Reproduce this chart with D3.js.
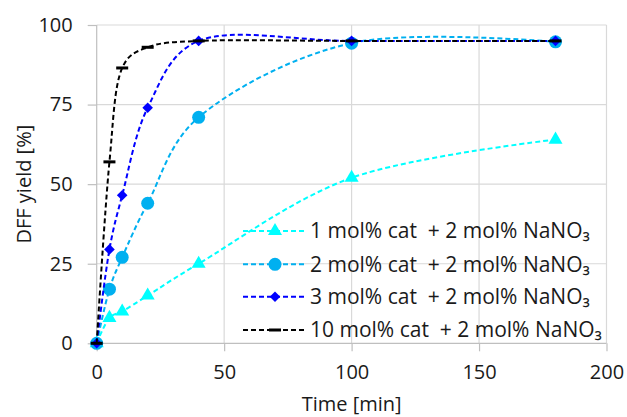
<!DOCTYPE html>
<html>
<head>
<meta charset="utf-8">
<script src="https://cdn.jsdelivr.net/npm/d3@7"></script>
<style>
  body { margin: 0; background: #fff; }
  text { font-family: "Open Sans", sans-serif; fill: #1a1a1a; white-space: pre; }
</style>
</head>
<body>
<svg id="chart"></svg>
<script>
const times = [0, 5, 10, 20, 40, 100, 180];
const cat1 = [0, 8, 10, 15, 25, 52, 64];
const cat2 = [0, 17, 27, 44, 71, 94.3, 94.7];
const cat3 = [0, 29.5, 46.5, 74, 95, 95, 95];
const cat10 = [0, 57, 86.5, 93, 95, 95, 95];
const seriesNames = [
    "1 mol% cat  + 2 mol% NaNO\u2083",
    "2 mol% cat  + 2 mol% NaNO\u2083",
    "3 mol% cat  + 2 mol% NaNO\u2083",
    "10 mol% cat  + 2 mol% NaNO\u2083"
];
const xTicks = [0, 50, 100, 150, 200];
const yTicks = [0, 25, 50, 75, 100];

const width = 627;
const height = 417;
const margin = { left: 96.7, right: 20.5, top: 25, bottom: 73.7 };

const svg = d3.select("#chart")
    .attr("width", width)
    .attr("height", height);

const xScale = d3.scaleLinear()
    .domain([0, 200])
    .range([margin.left, width - margin.right]);

const yScale = d3.scaleLinear()
    .domain([0, 100])
    .range([height - margin.bottom, margin.top]);

// gridlines
svg.append("g")
    .selectAll("line")
    .data(xTicks.slice(1))
    .enter().append("line")
    .attr("x1", d => xScale(d)).attr("x2", d => xScale(d))
    .attr("y1", yScale(0)).attr("y2", yScale(100))
    .attr("stroke", "#d9d9d9").attr("stroke-width", 1.2);

svg.append("g")
    .selectAll("line")
    .data(yTicks.slice(1))
    .enter().append("line")
    .attr("x1", xScale(0)).attr("x2", xScale(200))
    .attr("y1", d => yScale(d)).attr("y2", d => yScale(d))
    .attr("stroke", "#d9d9d9").attr("stroke-width", 1.2);

// axes
const xAxis = d3.axisBottom(xScale)
    .tickValues(xTicks)
    .tickSize(8)
    .tickPadding(14);

const yAxis = d3.axisLeft(yScale)
    .tickValues(yTicks)
    .tickSize(9)
    .tickPadding(15);

const gx = svg.append("g")
    .attr("transform", `translate(0, ${yScale(0)})`)
    .call(xAxis);

const gy = svg.append("g")
    .attr("transform", `translate(${xScale(0)}, 0)`)
    .call(yAxis);

[gx, gy].forEach(g => {
    g.select(".domain").attr("stroke", "#bfbfbf").attr("stroke-width", 1.2);
    g.selectAll(".tick line").attr("stroke", "#bfbfbf").attr("stroke-width", 1.2);
    g.selectAll(".tick text")
        .style("font-family", "'Open Sans', sans-serif")
        .style("font-size", "20px")
        .attr("fill", "#1a1a1a");
});
gx.select(".domain").attr("d", `M${xScale(0)},0H${xScale(200)}`);
gy.select(".domain").attr("d", `M0,${yScale(0)}V${yScale(100)}`);

// axis titles
svg.append("text")
    .attr("x", xScale(100))
    .attr("y", 411)
    .attr("text-anchor", "middle")
    .style("font-size", "20px")
    .text("Time [min]");

svg.append("text")
    .attr("transform", `translate(31, ${(yScale(0) + yScale(100)) / 2}) rotate(-90)`)
    .attr("text-anchor", "middle")
    .style("font-size", "20px")
    .text("DFF yield [%]");

// series
const series = [
    { values: cat1, color: "#00ffff", marker: "triangle" },
    { values: cat2, color: "#00b0f0", marker: "circle" },
    { values: cat3, color: "#0000ff", marker: "diamond" },
    { values: cat10, color: "#000000", marker: "dash" }
];

const line = d3.line()
    .x(d => xScale(d[0]))
    .y(d => yScale(d[1]))
    .curve(d3.curveCatmullRom.alpha(0.25));

function drawMarker(g, type, color) {
    if (type === "triangle") {
        g.append("path").attr("d", d3.symbol(d3.symbolTriangle, 85)()).attr("fill", color);
    } else if (type === "circle") {
        g.append("circle").attr("r", 6.5).attr("fill", color);
    } else if (type === "diamond") {
        g.append("path").attr("d", d3.symbol(d3.symbolSquare, 56)())
            .attr("transform", "rotate(45)").attr("fill", color);
    } else {
        g.append("rect").attr("x", -6).attr("y", -1.5).attr("width", 12).attr("height", 3)
            .attr("fill", color);
    }
}

series.forEach(s => {
    const pts = times.map((t, i) => [t, s.values[i]]);
    svg.append("path")
        .datum(pts)
        .attr("d", line)
        .attr("fill", "none")
        .attr("stroke", s.color)
        .attr("stroke-width", 2)
        .attr("stroke-dasharray", "5,3");

    svg.append("g")
        .selectAll("g")
        .data(pts)
        .enter().append("g")
        .attr("transform", d => `translate(${xScale(d[0])}, ${yScale(d[1])})`)
        .each(function () { drawMarker(d3.select(this), s.marker, s.color); });
});

// legend
const legend = svg.append("g");
const legendY = [231, 264.3, 296.7, 330];
series.forEach((s, i) => {
    const row = legend.append("g").attr("transform", `translate(0, ${legendY[i]})`);
    row.append("line")
        .attr("x1", 243).attr("x2", 304)
        .attr("stroke", s.color).attr("stroke-width", 2)
        .attr("stroke-dasharray", "5,3");
    const m = row.append("g").attr("transform", "translate(275, 0)");
    drawMarker(m, s.marker, s.color);
    row.append("text")
        .attr("x", 310)
        .attr("dy", "0.35em")
        .style("font-size", "21px")
        .text(seriesNames[i]);
});
</script>
</body>
</html>
